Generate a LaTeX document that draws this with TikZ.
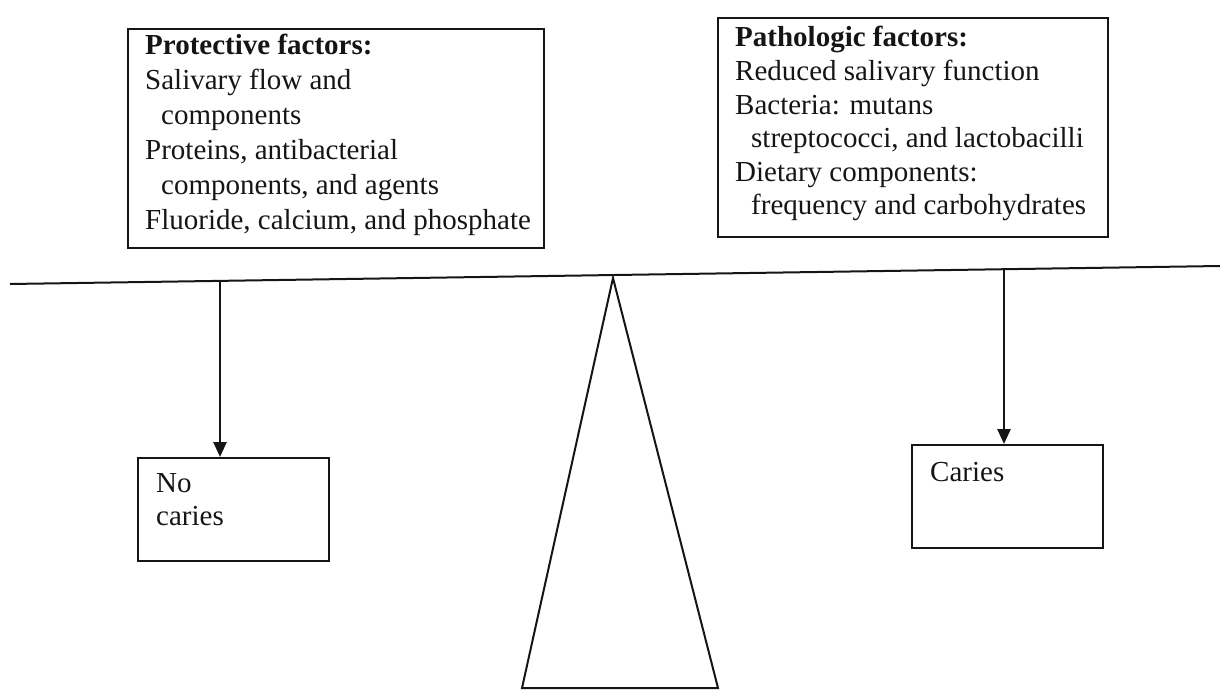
\documentclass[tikz,border=0pt]{standalone}
\usepackage{fontspec}
\setmainfont{Liberation Serif}
\usetikzlibrary{arrows.meta}
\definecolor{ink}{HTML}{151515}
\begin{document}
\begin{tikzpicture}[x=1pt,y=-1pt,
  box/.style={draw=ink,line width=2pt,rectangle,inner sep=0pt,anchor=north west},
  txt/.style={inner sep=0pt,anchor=base west,text=ink},
  beam/.style={draw=ink,line width=2pt},
  arr/.style={draw=ink,line width=2.6pt,-{Triangle[width=13pt,length=15pt]}}]
\useasboundingbox (0,0) rectangle (1220,690);
% boxes
\node[box,minimum width=416pt,minimum height=219pt] (prot) at (127,28) {};
\node[txt] (prott) at (145,55) {\fontsize{29}{35}\selectfont\begin{tabular}[t]{@{}l@{}}
\textbf{Protective factors:}\\
Salivary flow and\\
\hspace{16pt}components\\
Proteins, antibacterial\\
\hspace{16pt}components, and agents\\
Fluoride, calcium, and phosphate\end{tabular}};
\node[box,minimum width=390pt,minimum height=219pt] (path) at (717,17) {};
\node[txt] (patht) at (735,47) {\fontsize{29}{33.6}\selectfont\begin{tabular}[t]{@{}l@{}}
\textbf{Pathologic factors:}\\
Reduced salivary function\\
Bacteria: mutans\\
\hspace{16pt}streptococci, and lactobacilli\\
Dietary components:\\
\hspace{16pt}frequency and carbohydrates\end{tabular}};
% beam and fulcrum
\coordinate (bl) at (10,284);
\coordinate (br) at (1220,266);
\draw[beam] (bl) -- (br);
\coordinate (apex) at (613,278);
\coordinate (tl) at (522,688);
\coordinate (tr) at (718,688);
\draw[beam,line join=miter] (tl) -- (apex) -- (tr) -- cycle;
% outcome boxes
\node[box,minimum width=191pt,minimum height=103pt] (nocar) at (137,457) {};
\node[txt] (nocart) at (156,492) {\fontsize{29}{33}\selectfont\begin{tabular}[t]{@{}l@{}}No\\caries\end{tabular}};
\node[box,minimum width=191pt,minimum height=103pt] (car) at (911,444) {};
\node[txt] (cart) at (930,481) {\fontsize{29}{33}\selectfont Caries};
% arrows
\coordinate (la) at (220,281);
\coordinate (ra) at (1004,269);
\draw[arr] (la) -- (la |- nocar.north);
\draw[arr] (ra) -- (ra |- car.north);
\end{tikzpicture}
\end{document}
